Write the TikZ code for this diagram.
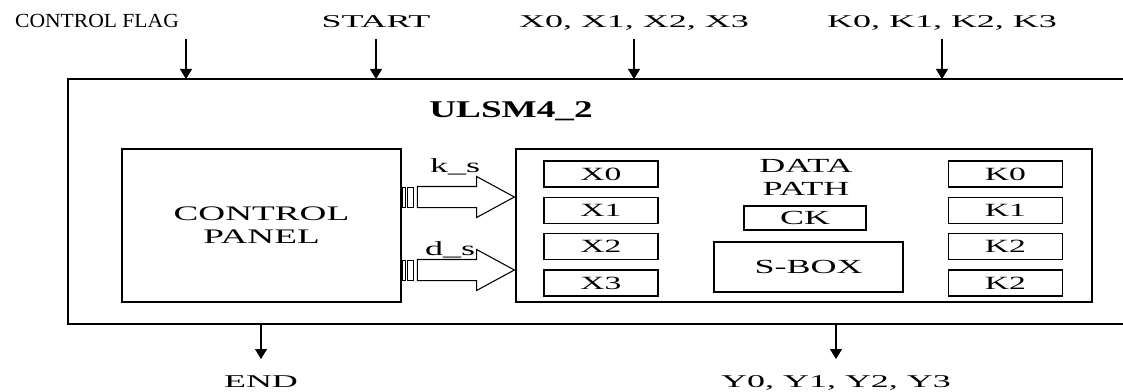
\documentclass[tikz,border=0pt]{standalone}
\usepackage{fontspec}
\setmainfont{Liberation Serif}
\newfontfamily\labfont[FakeStretch=2.0]{Liberation Serif}
\newfontfamily\flagfont[FakeStretch=1.08]{Liberation Serif}
\newfontfamily\boxfont[FakeStretch=1.8]{Liberation Serif}
\newfontfamily\titlefont[FakeStretch=1.55]{Liberation Serif}
\usetikzlibrary{arrows.meta,shapes.arrows}

\begin{document}
\begin{tikzpicture}[x=0.75pt,y=-0.75pt,
        box/.style={rectangle,draw,line width=0.8pt,inner sep=0pt,align=center,
                    font=\boxfont\fontsize{15}{17.25}\selectfont},
        reg/.style={box,minimum width=85.5pt,minimum height=19.5pt,
                    font=\boxfont\fontsize{14}{16}\selectfont},
        lbl/.style={inner sep=0pt,anchor=base,font=\labfont\fontsize{13.5}{16}\selectfont},
        sig/.style={-{Triangle[length=7.5pt,width=9pt]},line width=0.8pt},
        bus/.style={single arrow,draw,line width=0.8pt,inner xsep=0pt,inner ysep=7.5pt,
                    minimum width=30pt,minimum height=72.75pt,
                    single arrow head extend=7.5pt,single arrow tip angle=57}]
      \useasboundingbox (0,0) rectangle (1123,392);
      % outer block, open on the right
      \coordinate (ftl) at (68,79);
      \coordinate (fbl) at (68,324);
      \coordinate (ftr) at (1123,79);
      \coordinate (fbr) at (1123,324);
      \draw[line width=0.9pt] (ftr) -- (ftl) -- (fbl) -- (fbr);
      \node[font=\titlefont\bfseries\fontsize{18}{20}\selectfont,anchor=base] (title) at (511,118) {ULSM4\_2};
      % inputs
      \node[lbl,font=\flagfont\fontsize{15}{17}\selectfont] (cflag) at (97,28) {CONTROL FLAG};
      \node[lbl] (start) at (376,28) {START};
      \node[lbl] (xin) at (634,28) {X0, X1, X2, X3};
      \node[lbl] (kin) at (942,28) {K0, K1, K2, K3};
      \coordinate (atop) at (0,39);
      \coordinate (cfx) at (186,0);
      \draw[sig] (cfx |- atop) -- (cfx |- ftl);
      \foreach \n in {start,xin,kin}
        \draw[sig] (\n |- atop) -- (\n |- ftl);
      % control panel and data path
      \node[box,minimum width=209.25pt,minimum height=114.75pt,
            font=\boxfont\fontsize{15.5}{17.25}\selectfont] (cp) at (261.5,225.5) {CONTROL\\PANEL};
      \node[box,minimum width=432pt,minimum height=114.75pt] (dp) at (804,225.5) {};
      \node[box,draw=none] (dplab) at (806,177) {DATA\\PATH};
      \node[box,minimum width=91.5pt,minimum height=18pt] (ck) at (805,218) {CK};
      \node[box,minimum width=141.75pt,minimum height=37.5pt] (sbox) at (808.5,267) {S-BOX};
      \foreach \i/\k in {0/K0,1/K1,2/K2,3/K2}{
        \node[reg] (x\i) at (601,{174+36.33*\i}) {X\i};
        \node[reg] (k\i) at (1005.5,{174+36.33*\i}) {\k};
      }
      % buses
      \coordinate (kline) at (0,197);
      \coordinate (dline) at (0,270);
      \node[bus,anchor=tip] (kbus) at (dp.west |- kline) {};
      \node[bus,anchor=tip] (dbus) at (dp.west |- dline) {};
      \foreach \b in {kbus,dbus}{
        \draw[line width=0.6pt] ([xshift=-2.25pt,yshift=-7.5pt]\b.tail) rectangle ([xshift=-6.75pt,yshift=7.5pt]\b.tail);
        \draw[line width=0.6pt] ([xshift=-8.25pt,yshift=-7.5pt]\b.tail) rectangle ([xshift=-10.5pt,yshift=7.5pt]\b.tail);
      }
      \node[box,draw=none,anchor=base] (klab) at (455,172) {k\_s};
      \node[box,draw=none,anchor=base] (dlab) at (450,255) {d\_s};
      % outputs
      \node[lbl] (endl) at (261,387) {END};
      \node[lbl] (yout) at (836,387) {Y0, Y1, Y2, Y3};
      \coordinate (abot) at (0,359);
      \draw[sig] (endl |- fbl) -- (endl |- abot);
      \draw[sig] (yout |- fbl) -- (yout |- abot);
    \end{tikzpicture}
\end{document}
